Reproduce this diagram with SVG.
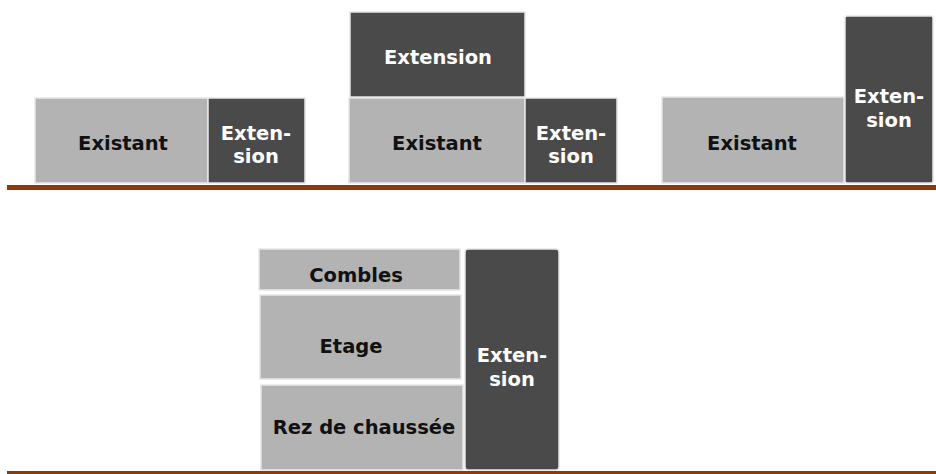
<svg xmlns="http://www.w3.org/2000/svg" width="936" height="474" viewBox="0 0 936 474">
  <style>
    .old { fill: #b3b3b3; stroke: #e6e6e6; stroke-width: 1.5; }
    .new { fill: #4a4a4a; stroke: #e6e6e6; stroke-width: 1.5; }
    .ground { fill: #8b3a0e; }
    text { font-family: "DejaVu Sans", Verdana, sans-serif; font-weight: bold; font-size: 19.5px; text-anchor: middle; }
    .dark { fill: #111111; }
    .light { fill: #ffffff; }
  </style>
  <rect width="936" height="474" fill="#ffffff"/>

  <!-- ground lines -->
  <g id="grounds">
    <rect class="ground" x="7" y="185" width="929" height="5"/>
    <rect class="ground" x="7" y="471" width="929" height="3"/>
  </g>

  <!-- case 1: side extension, same height -->
  <g id="existant-1">
    <rect class="old" x="35" y="98" width="173" height="85"/>
    <text class="dark" x="123" y="150">Existant</text>
  </g>
  <g id="extension-1">
    <rect class="new" x="208" y="98" width="97" height="85"/>
    <text class="light" x="256" y="140">Exten-</text>
    <text class="light" x="256" y="163">sion</text>
  </g>

  <!-- case 2: raised storey plus side extension -->
  <g id="extension-2-top">
    <rect class="new" x="350" y="12" width="175" height="85"/>
    <text class="light" x="438" y="64">Extension</text>
  </g>
  <g id="existant-2">
    <rect class="old" x="349" y="98" width="176" height="85"/>
    <text class="dark" x="437" y="150">Existant</text>
  </g>
  <g id="extension-2-side">
    <rect class="new" x="525" y="98" width="92" height="85"/>
    <text class="light" x="571" y="140">Exten-</text>
    <text class="light" x="571" y="163">sion</text>
  </g>

  <!-- case 3: taller side extension -->
  <g id="existant-3">
    <rect class="old" x="662" y="97" width="182" height="86"/>
    <text class="dark" x="752" y="150">Existant</text>
  </g>
  <g id="extension-3">
    <rect class="new" x="845" y="16" width="88" height="167" rx="2"/>
    <text class="light" x="889" y="103">Exten-</text>
    <text class="light" x="889" y="127">sion</text>
  </g>

  <!-- storeys of the existing house with full-height extension -->
  <g id="combles">
    <rect class="old" x="259" y="249" width="201" height="41"/>
    <text class="dark" x="356" y="282">Combles</text>
  </g>
  <g id="etage">
    <rect class="old" x="260" y="295" width="201" height="84"/>
    <text class="dark" x="351" y="353">Etage</text>
  </g>
  <g id="rez-de-chaussee">
    <rect class="old" x="261" y="385" width="202" height="85"/>
    <text class="dark" x="364" y="434">Rez de chaussée</text>
  </g>
  <g id="extension-4">
    <rect class="new" x="465" y="249" width="94" height="221" rx="3"/>
    <text class="light" x="512" y="362">Exten-</text>
    <text class="light" x="512" y="386">sion</text>
  </g>
</svg>
